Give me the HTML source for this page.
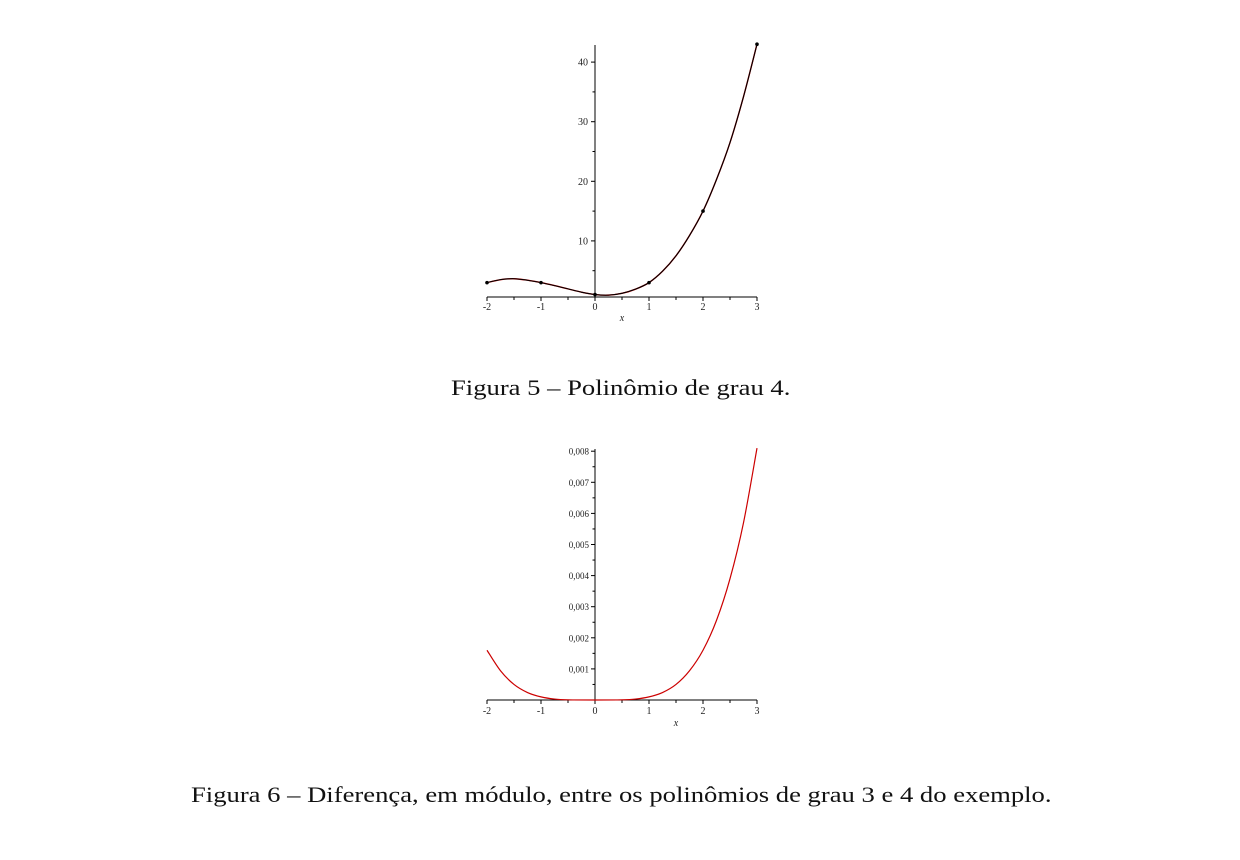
<!DOCTYPE html>
<html><head><meta charset="utf-8"><style>
body{margin:0;background:#fff;width:1240px;height:860px;overflow:hidden;font-family:"Liberation Serif",serif}
.cap{position:absolute;font-size:22px;color:#111;white-space:nowrap;transform:scaleX(1.21);transform-origin:left top}
</style></head><body>
<svg id="svg" width="1240" height="860" style="position:absolute;left:0;top:0"></svg>
<div class="cap" style="left:451px;top:375px">Figura 5 – Polinômio de grau 4.</div>
<div class="cap" style="left:191px;top:782px">Figura 6 – Diferença, em módulo, entre os polinômios de grau 3 e 4 do exemplo.</div>
<script>
const xTicks=[-2,-1,0,1,2,3];
const topYTicks=[10,20,30,40];
const topPtsX=[-2,-1,0,1,2,3];
const topPtsY=[3,3,1,3,15,43];
const topCurveX=[-2,-1.75,-1.5,-1.25,-1,-0.75,-0.5,-0.25,0,0.25,0.5,0.75,1,1.25,1.5,1.75,2,2.25,2.5,2.75,3];
const topCurveY=[3,3.5,3.65,3.4,3,2.5,1.95,1.4,1,0.9,1.2,1.9,3,4.9,7.5,10.9,15,20.3,26.5,34.2,43];
const botYTicks=[0.001,0.002,0.003,0.004,0.005,0.006,0.007,0.008];
const botYLabels=["0,001","0,002","0,003","0,004","0,005","0,006","0,007","0,008"];
const botCurveX=[-2,-1.75,-1.5,-1.25,-1,-0.75,-0.5,0,0.5,0.75,1,1.25,1.5,1.75,2,2.25,2.5,2.75,3];
const botCurveY=[0.0016,0.00094,0.0005,0.00024,0.0001,0.00003,0.000006,0,0.000006,0.00003,0.0001,0.00024,0.0005,0.00094,0.0016,0.00256,0.0039,0.0057,0.0081];

const NS="http://www.w3.org/2000/svg";
const svg=document.getElementById('svg');
function mk(t,a){const e=document.createElementNS(NS,t);for(const k in a)e.setAttribute(k,a[k]);svg.appendChild(e);return e;}
function txt(x,y,s,size,anchor,name,italic){const e=mk('text',{x:x,y:y,'font-size':size,'text-anchor':anchor,fill:'#222','font-family':'Liberation Serif, serif'});if(italic)e.setAttribute('font-style','italic');e.textContent=s;

return e;}
function crPath(xs,ys,sx,sy){const P=xs.map((x,i)=>[sx(x),sy(ys[i])]);let d='M'+P[0][0]+','+P[0][1];
for(let i=0;i<P.length-1;i++){const p0=P[Math.max(0,i-1)],p1=P[i],p2=P[i+1],p3=P[Math.min(P.length-1,i+2)];
d+=' C'+(p1[0]+(p2[0]-p0[0])/6)+','+(p1[1]+(p2[1]-p0[1])/6)+' '+(p2[0]-(p3[0]-p1[0])/6)+','+(p2[1]-(p3[1]-p1[1])/6)+' '+p2[0]+','+p2[1];}return d;}
function xAxis(sx,ay,labY,xLabY,xTitle,prefix){const l=mk('line',{x1:sx(-2),x2:sx(3),y1:ay,y2:ay,stroke:'#000','stroke-width':1});


for(let v=-2;v<=3.001;v+=0.5){const major=Math.abs(v-Math.round(v))<1e-6;mk('line',{x1:sx(v),x2:sx(v),y1:ay,y2:ay+(major?4:3),stroke:'#000','stroke-width':1});}
xTicks.forEach(v=>txt(sx(v),labY,v<0?'-'+(-v):String(v),10,'middle',prefix+'-x-tick-label'));
txt(sx(xTitle),xLabY,'x',10,'middle',prefix+'-x-axis-title',true);}

// Top chart
const tsx=v=>595+v*54, tsy=v=>300.5-v*5.96;
xAxis(tsx,297,310,321,0.5,'top');
let a=mk('line',{x1:595,x2:595,y1:297,y2:45,stroke:'#000','stroke-width':1});

for(let v=5;v<=42;v+=5){mk('line',{x1:595,x2:v%10==0?591:592.5,y1:tsy(v),y2:tsy(v),stroke:'#000','stroke-width':1});}
topYTicks.forEach(v=>txt(588,tsy(v)+3.5,String(v),10,'end','top-y-tick-label'));
let c1=mk('path',{d:crPath(topCurveX,topCurveY,tsx,tsy),fill:'none',stroke:'#c00','stroke-width':1.4});

let c2=mk('path',{d:crPath(topCurveX,topCurveY,tsx,tsy),fill:'none',stroke:'#000','stroke-width':1.1});

topPtsX.forEach((x,i)=>{const p=mk('circle',{cx:tsx(x),cy:tsy(topPtsY[i]),r:1.8,fill:'#000'});

});

// Bottom chart
const bsx=v=>595+v*54, bsy=v=>700-v*31100;
xAxis(bsx,700,714,726,1.5,'bottom');
a=mk('line',{x1:595,x2:595,y1:700,y2:449,stroke:'#000','stroke-width':1});

for(let k=1;k<=16;k++){const v=k*0.0005;mk('line',{x1:595,x2:k%2==0?591:592.5,y1:bsy(v),y2:bsy(v),stroke:'#000','stroke-width':1});}
botYTicks.forEach((v,i)=>txt(589,bsy(v)+3.5,botYLabels[i],9,'end','bottom-y-tick-label'));
let c3=mk('path',{d:crPath(botCurveX,botCurveY,bsx,bsy),fill:'none',stroke:'#c00','stroke-width':1.2});

</script>
</body></html>
